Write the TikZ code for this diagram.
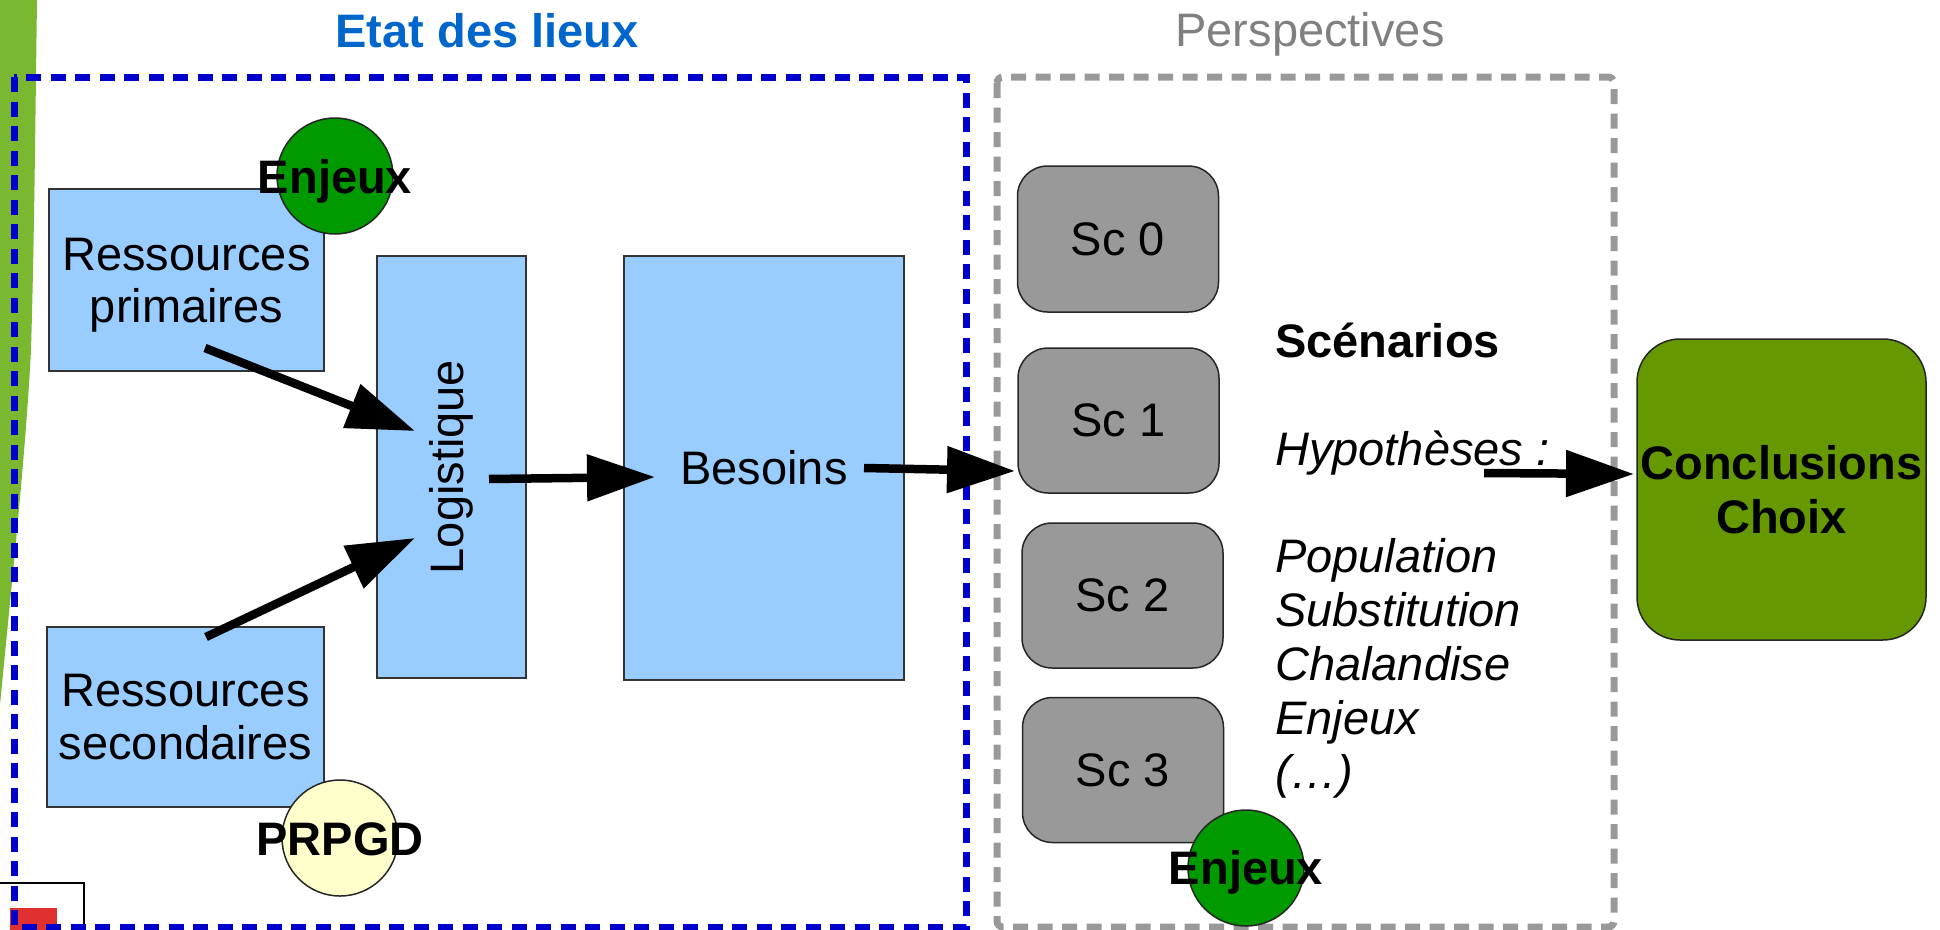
\documentclass[tikz,border=0pt]{standalone}
\usepackage{fontspec}
\setmainfont{Liberation Sans}
\usetikzlibrary{arrows.meta}
\definecolor{boxblue}{HTML}{99CCFF}
\definecolor{scgray}{HTML}{999999}
\definecolor{conclgreen}{HTML}{669900}
\definecolor{enjgreen}{HTML}{009900}
\definecolor{prpgdyellow}{HTML}{FFFFCC}
\definecolor{dashblue}{HTML}{0000CC}
\definecolor{titleblue}{HTML}{0066CC}
\definecolor{titlegray}{HTML}{808080}
\definecolor{decogreen}{HTML}{79B82F}
\definecolor{logored}{HTML}{E03030}
\begin{document}
\begin{tikzpicture}[x=1pt,y=-1pt,
  every node/.style={font=\fontsize{47}{54}\selectfont, inner sep=0pt},
  bluebox/.style={draw=black!80, line width=1.5pt, fill=boxblue, align=center},
  scbox/.style={draw=black!85, line width=1.5pt, fill=scgray, rounded corners=30pt, minimum width=201pt, minimum height=145pt},
  disc/.style={circle, draw=black!85, line width=1.5pt, minimum size=116pt},
  boldlabel/.style={font=\fontsize{47}{54}\selectfont\bfseries, anchor=base},
  arrowline/.style={line width=8.5pt, -{Triangle[length=68pt,width=45pt]}},
  zone/.style={line width=7pt, dash pattern=on 15pt off 9.5pt},
  hyp/.style={font=\fontsize{47}{54}\selectfont\itshape, anchor=base west},
]
\useasboundingbox (0,0) rectangle (1940,929);
% decorative background
\fill[decogreen] (0,0) -- (37,0) .. controls (35,150) and (34,250) .. (31,350) .. controls (26,450) and (12,580) .. (0,705) -- cycle;
\filldraw[fill=white, draw=black, line width=1.5pt] (-2,883) rectangle (84,935);
\fill[logored] (10,908) rectangle (57,935);
% zones
\draw[zone, draw=dashblue] (14,77) rectangle (966,927);
\draw[zone, draw=scgray, rounded corners=6pt] (997,77) rectangle (1614,927);
% titles
\node[font=\fontsize{47}{54}\selectfont\bfseries, text=titleblue, anchor=base] (t1) at (487,47) {Etat des lieux};
\node[text=titlegray, anchor=base] (t2) at (1310,46) {Perspectives};
% boxes
\node[bluebox, minimum width=275pt, minimum height=182pt, text depth=0pt, font=\fontsize{47}{52}\selectfont] (rp) at (186.5,280) {Ressources\\primaires};
\node[bluebox, minimum width=277pt, minimum height=180pt, text depth=0pt, font=\fontsize{47}{53}\selectfont] (rs) at (185.5,717) {Ressources\\secondaires};
\node[bluebox, minimum width=422pt, minimum height=149pt, rotate=90] (log) at (451.5,467) {Logistique};
\node[bluebox, minimum width=280pt, minimum height=424pt] (bes) at (764,468) {Besoins};
\node[scbox, minimum height=146pt] (sc0) at (1118,239) {Sc 0};
\node[scbox] (sc1) at (1118.5,420.5) {Sc 1};
\node[scbox] (sc2) at (1122.5,595.5) {Sc 2};
\node[scbox] (sc3) at (1123,770) {Sc 3};
\node[draw=black!85, line width=1.5pt, fill=conclgreen, rounded corners=43pt, minimum width=289pt, minimum height=301pt, align=center, font=\fontsize{47}{54}\selectfont\bfseries] (concl) at (1781.5,489.5) {Conclusions\\Choix};
% circles
\node[disc, fill=enjgreen] (c1) at (335,176) {};
\node[boldlabel] (e1) at (335,193) {Enjeux};
\node[disc, fill=prpgdyellow] (c2) at (340,838) {};
\node[boldlabel] (p1) at (340,855) {PRPGD};
\node[disc, fill=enjgreen] (c3) at (1246,868) {};
\node[boldlabel] (e2) at (1246,884) {Enjeux};
% scenario text
\node[font=\fontsize{47}{54}\selectfont\bfseries, anchor=base west] (scen) at (1275,357) {Scénarios};
\node[hyp] (hyp) at (1275,465) {Hypothèses :};
\node[hyp] (h1) at (1275,572) {Population};
\node[hyp] (h2) at (1275,626) {Substitution};
\node[hyp] (h3) at (1275,680) {Chalandise};
\node[hyp] (h4) at (1275,734) {Enjeux};
\node[hyp] (h5) at (1275,788) {(…)};
% arrows
\coordinate (a1s) at (205,348); \coordinate (a1e) at (415,431);
\coordinate (a2s) at (206,637); \coordinate (a2e) at (415,538);
\coordinate (a3s) at (489,479); \coordinate (a3e) at (655,477);
\coordinate (a4s) at (864,468); \coordinate (a4e) at (1015,471);
\coordinate (a5s) at (1484,473); \coordinate (a5e) at (1634,474);
\draw[arrowline] (a1s) -- (a1e);
\draw[arrowline] (a2s) -- (a2e);
\draw[arrowline] (a3s) -- (a3e);
\draw[arrowline] (a4s) -- (a4e);
\draw[arrowline] (a5s) -- (a5e);
\end{tikzpicture}
\end{document}
